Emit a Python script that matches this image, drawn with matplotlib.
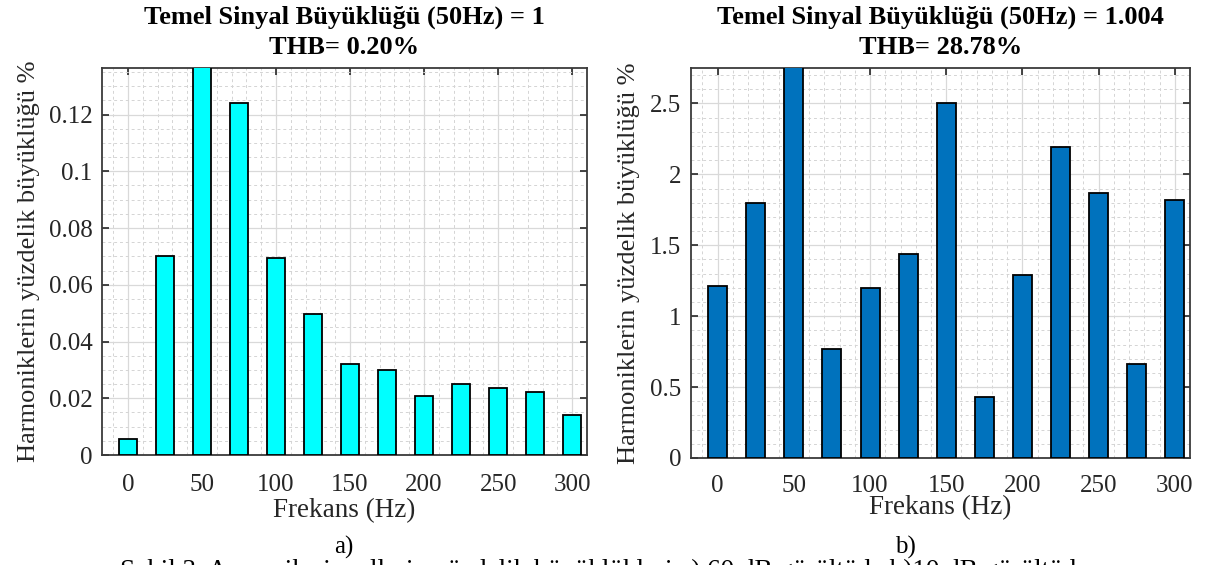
import matplotlib
matplotlib.use("Agg")
import matplotlib.pyplot as plt
from matplotlib.ticker import MultipleLocator

freqs = [0, 25, 50, 75, 100, 125, 150, 175, 200, 225, 250, 275, 300]
vals_a = [0.0056, 0.070, 100.0, 0.124, 0.0695, 0.0497, 0.032, 0.0298, 0.0208, 0.0249, 0.0237, 0.0221, 0.0141]
vals_b = [1.21, 1.80, 100.0, 0.77, 1.20, 1.44, 2.50, 0.43, 1.29, 2.19, 1.87, 0.66, 1.82]
titles = ["Temel Sinyal Büyüklüğü (50Hz) = 1\nTHB= 0.20%",
          "Temel Sinyal Büyüklüğü (50Hz) = 1.004\nTHB= 28.78%"]
xticks = [0, 50, 100, 150, 200, 250, 300]
yticks_a = [0, 0.02, 0.04, 0.06, 0.08, 0.1, 0.12]
yticks_b = [0, 0.5, 1, 1.5, 2, 2.5]
ylabel = "Harmoniklerin yüzdelik büyüklüğü %"
xlabel = "Frekans (Hz)"
caption = "Şekil 3. Armonik sinyallerin yüzdelik büyüklükleri a) 60 dB gürültüde b)10 dB gürültüde"

plt.rcParams['font.family'] = ['Liberation Serif', 'DejaVu Serif']

W, H = 1211, 565
fig = plt.figure(figsize=(W/100, H/100), dpi=100)

def px(l, t, r, b):
    return [l/W, 1 - b/H, (r-l)/W, (b-t)/H]

ax1 = fig.add_axes(px(102, 68, 587, 455))
ax2 = fig.add_axes(px(691, 68, 1190, 458))

specs = [
    (ax1, vals_a, '#00FFFF', yticks_a, 0.1364, 0.005, ['0', '0.02', '0.04', '0.06', '0.08', '0.1', '0.12'],
     14, (-0.128, 0.5), (0.5, -0.111)),
    (ax2, vals_b, '#0072BD', yticks_b, 2.75, 0.1, ['0', '0.5', '1', '1.5', '2', '2.5'],
     12, (-0.102, 0.5), (0.5, -0.095)),
]
for i, (ax, vals, col, yt, ytop, ymin, ylabs, xpad, ylc, xlc) in enumerate(specs):
    ax.bar(freqs, vals, width=12.5, color=col, edgecolor='black', linewidth=1.3, zorder=3)
    ax.set_xlim(-17.5, 310)
    ax.set_ylim(0, ytop)
    ax.set_xticks(xticks)
    ax.set_xticklabels([str(x) for x in xticks])
    ax.set_yticks(yt)
    ax.set_yticklabels(ylabs)
    ax.xaxis.set_minor_locator(MultipleLocator(10))
    ax.yaxis.set_minor_locator(MultipleLocator(ymin))
    ax.grid(True, which='major', color='#d9d9d9', linewidth=0.9, zorder=0)
    ax.grid(True, which='minor', color='#d4d4d4', linewidth=0.7, linestyle=(0, (3, 3)), zorder=0)
    ax.set_axisbelow(True)
    ax.tick_params(which='major', direction='in', length=5, width=1.2, top=True, right=True,
                   labelsize=18, colors='#262626')
    ax.tick_params(axis='x', which='major', pad=xpad)
    ax.tick_params(axis='y', which='major', pad=7)
    ax.tick_params(which='minor', length=0)
    for s in ax.spines.values():
        s.set_color('#3a3a3a')
        s.set_linewidth(1.3)
    ax.set_title(titles[i], fontsize=19, fontweight='bold', linespacing=1.4, pad=10)
    ax.set_ylabel(ylabel, fontsize=19, color='#262626')
    ax.yaxis.set_label_coords(*ylc)
    ax.set_xlabel(xlabel, fontsize=19.5, color='#262626')
    ax.xaxis.set_label_coords(*xlc)

fig.text(344/W, 1 - 547/H, "a)", ha='center', va='center', fontsize=18, family='Liberation Serif')
fig.text(905/W, 1 - 547/H, "b)", ha='center', va='center', fontsize=18, family='Liberation Serif')
fig.text(604/W, 1 - 559/H, caption, ha='center', va='top', fontsize=19.5, family='Liberation Serif')

fig.savefig("out.png", dpi=100)
